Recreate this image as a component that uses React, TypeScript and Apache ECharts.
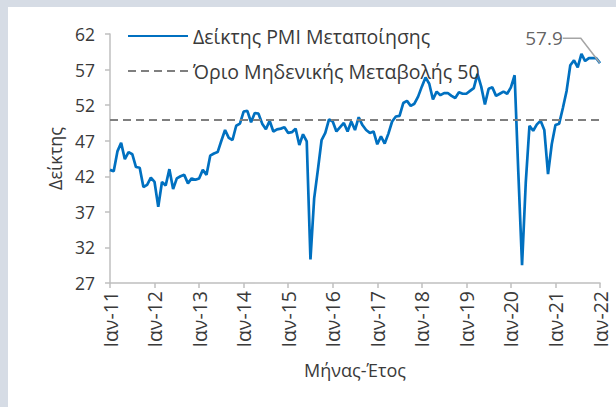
import React, { useEffect, useRef } from "react";
import * as echarts from "echarts";

const monthNames = ["Ιαν", "Φεβ", "Μαρ", "Απρ", "Μαϊ", "Ιουν", "Ιουλ", "Αυγ", "Σεπ", "Οκτ", "Νοε", "Δεκ"];
const yearSuffixes = ["11", "12", "13", "14", "15", "16", "17", "18", "19", "20", "21", "22"];

const pmi2011 = [42.9, 42.7, 45.5, 46.7, 44.4, 45.4, 45.1, 43.3, 43.2, 40.5, 40.8, 41.8];
const pmi2012 = [41.2, 37.7, 41.2, 40.7, 43.0, 40.2, 41.7, 42.0, 42.2, 41.0, 41.7, 41.5];
const pmi2013 = [41.7, 42.9, 42.2, 44.9, 45.2, 45.4, 47.0, 48.5, 47.4, 47.1, 49.1, 49.4];
const pmi2014 = [51.1, 51.2, 49.6, 50.9, 50.8, 49.4, 48.6, 49.8, 48.3, 48.6, 48.7, 48.9];
const pmi2015 = [48.1, 48.2, 48.7, 46.4, 47.9, 46.9, 30.3, 38.9, 42.9, 47.1, 48.1, 50.0];
const pmi2016 = [49.7, 48.3, 48.9, 49.5, 48.3, 49.7, 48.5, 50.3, 49.2, 48.5, 48.1, 48.3];
const pmi2017 = [46.5, 47.6, 46.6, 48.0, 49.7, 50.4, 50.5, 52.3, 52.6, 51.9, 52.2, 53.2];
const pmi2018 = [54.6, 55.9, 55.0, 52.8, 53.9, 53.4, 53.7, 53.7, 53.3, 53.0, 53.8, 53.6];
const pmi2019 = [53.6, 54.0, 54.4, 56.4, 54.6, 52.1, 54.3, 54.5, 53.3, 53.6, 53.9, 53.6];
const pmi2020 = [54.5, 56.2, 42.5, 29.5, 41.1, 49.1, 48.4, 49.3, 49.8, 48.5, 42.3, 46.5];
const pmi2021 = [49.2, 49.4, 51.6, 54.0, 57.6, 58.3, 57.3, 59.2, 58.2, 58.6, 58.6, 58.6];
const pmi2022 = [57.9];

const pmiValues = [
  ...pmi2011, ...pmi2012, ...pmi2013, ...pmi2014, ...pmi2015, ...pmi2016,
  ...pmi2017, ...pmi2018, ...pmi2019, ...pmi2020, ...pmi2021, ...pmi2022,
];

const categories = yearSuffixes
  .flatMap((y) => monthNames.map((m) => `${m}-${y}`))
  .slice(0, pmiValues.length);

const threshold = 50;
const yMin = 27;
const yMax = 62;
const yInterval = 5;
const seriesNames = ["Δείκτης PMI Μεταποίησης", "Όριο Μηδενικής Μεταβολής 50"];
const xAxisName = "Μήνας-Έτος";
const yAxisName = "Δείκτης";

export default function App() {
  const ref = useRef<HTMLDivElement>(null);

  useEffect(() => {
    const chart = echarts.init(ref.current as HTMLDivElement, null, { renderer: "svg" });
    const font = "'Open Sans', 'Noto Sans', sans-serif";
    const textColor = "#3a3a3a";
    const axisColor = "#bfbfbf";
    const lastIdx = pmiValues.length - 1;
    const isYearStart = (i: number) => i % 12 === 0;

    chart.setOption({
      animation: false,
      textStyle: { fontFamily: font, color: textColor },
      grid: { left: 102, right: 16, top: 27, bottom: 124 },
      legend: {
        data: seriesNames,
        orient: "vertical",
        left: 114,
        top: 14,
        itemWidth: 60,
        itemHeight: 14,
        itemGap: 15,
        itemStyle: { opacity: 0 },
        textStyle: { fontFamily: font, fontSize: 19.5, color: textColor },
      },
      xAxis: {
        type: "category",
        data: categories,
        boundaryGap: false,
        name: xAxisName,
        nameLocation: "middle",
        nameGap: 78,
        nameTextStyle: { fontFamily: font, fontSize: 18, color: textColor },
        axisLine: { lineStyle: { color: axisColor, width: 1.5 } },
        axisTick: { show: true, interval: (i: number) => isYearStart(i), length: 5, lineStyle: { color: axisColor, width: 1.5 } },
        axisLabel: {
          interval: (i: number) => isYearStart(i),
          rotate: 90,
          fontFamily: font,
          fontSize: 19.5,
          color: textColor,
          margin: 8,
        },
        splitLine: { show: false },
      },
      yAxis: {
        type: "value",
        min: yMin,
        max: yMax,
        interval: yInterval,
        name: yAxisName,
        nameLocation: "middle",
        nameGap: 27,
        nameRotate: 90,
        nameTextStyle: { fontFamily: font, fontSize: 18, color: textColor },
        axisLine: { show: true, lineStyle: { color: axisColor, width: 1.5 } },
        axisTick: { show: true, length: 5, lineStyle: { color: axisColor, width: 1.5 } },
        axisLabel: { fontFamily: font, fontSize: 17.5, color: textColor, margin: 15 },
        splitLine: { show: false },
      },
      series: [
        {
          name: seriesNames[0],
          type: "line",
          data: pmiValues,
          symbol: "none",
          z: 3,
          lineStyle: { color: "#0070C0", width: 2.7 },
          itemStyle: { color: "#0070C0" },
        },
        {
          name: seriesNames[1],
          type: "line",
          data: [],
          symbol: "none",
          lineStyle: { color: "#7f7f7f", width: 2.2, type: [8, 5] },
          itemStyle: { color: "#7f7f7f" },
          markLine: {
            silent: true,
            symbol: ["none", "none"],
            label: { show: false },
            lineStyle: { color: "#7f7f7f", width: 2.2, type: [8, 5] },
            data: [{ yAxis: threshold }],
          },
        },
        {
          name: "annotation",
          type: "scatter",
          silent: true,
          symbolSize: 1,
          z: 4,
          itemStyle: { color: "rgba(0,0,0,0)" },
          data: [[lastIdx, pmiValues[lastIdx]]],
          label: {
            show: true,
            position: "inside",
            formatter: (p: any) => String(p.value[1]),
            fontFamily: font,
            fontSize: 19,
            color: textColor,
          },
          labelLayout: { dx: -56, dy: -25 },
          labelLine: { show: true, length2: 18, lineStyle: { color: "#a5a5a5", width: 1.5 } },
        },
      ],
    });

    return () => chart.dispose();
  }, []);

  return (
    <div style={{ position: "fixed", left: 0, top: 0, width: 616, height: 407, background: "#D6DCE5" }}>
      <div ref={ref} style={{ position: "absolute", left: 8, top: 7, width: 608, height: 400, background: "#ffffff" }} />
    </div>
  );
}
